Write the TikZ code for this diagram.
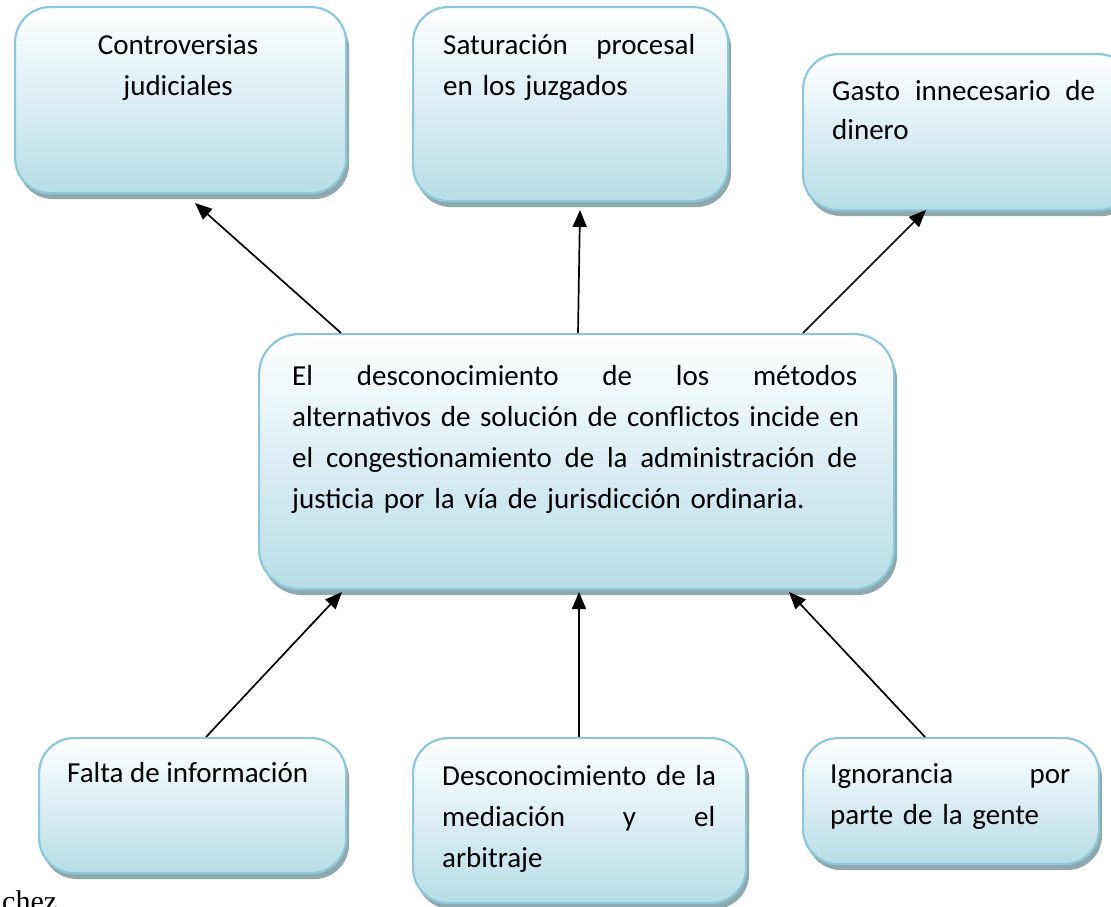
\documentclass[tikz,border=0pt]{standalone}
\usepackage{fontspec}
\setmainfont{Carlito}
\newfontfamily\chezfont{Liberation Serif}
\usetikzlibrary{shadows,calc,arrows.meta}
\definecolor{boxline}{RGB}{140,200,218}
\definecolor{boxfill}{RGB}{183,221,232}
\definecolor{shadowc}{RGB}{143,168,175}
\newcommand{\jline}[2]{\leavevmode\hbox to #1{#2}}
\tikzset{
  card/.style={draw=boxline, line width=2.2pt, rounded corners=35pt,
    top color=white, bottom color=boxfill, anchor=north west, inner sep=0pt,
    drop shadow={shadow xshift=3pt, shadow yshift=-6pt, fill=shadowc, opacity=1}},
  txt/.style={inner sep=0pt, anchor=base west, align=left,
    font=\fontsize{29pt}{41pt}\selectfont},
  link/.style={-{Triangle[length=17pt,width=14pt]}, line width=1.7pt, black},
}
\begin{document}
\begin{tikzpicture}[x=1pt,y=-1pt]
\useasboundingbox (0,0) rectangle (1111,907);
\clip (0,0) rectangle (1111,907);
% boxes
\node[card, minimum width=331pt, minimum height=186pt] (b1) at (14,6) {};
\node[card, minimum width=315pt, minimum height=194pt] (b2) at (412,6) {};
\node[card, minimum width=330pt, minimum height=156pt] (b3) at (802,53) {};
\node[card, minimum width=635pt, minimum height=255pt, rounded corners=40pt] (c) at (258,333) {};
\node[card, minimum width=307pt, minimum height=135pt] (d1) at (38,737) {};
\node[card, minimum width=333pt, minimum height=165pt] (d2) at (412,737) {};
\node[card, minimum width=296pt, minimum height=126pt] (d3) at (802,737) {};
% texts
\node[txt, anchor=base, align=center, text width=250pt] (t1) at (178,55) {Controversias\\judiciales};
\node[txt, text width=262pt] (t2) at (443,55) {\jline{252pt}{Saturación \hfill procesal}\\en los juzgados};
\node[txt, text width=275pt] (t3) at (832,100) {\jline{263pt}{Gasto \hfill innecesario \hfill de}\\[-2pt]dinero};
\node[txt, text width=580pt] (tc) at (292,385) {\jline{565pt}{El \hfill desconocimiento \hfill de \hfill los \hfill métodos}\\
\jline{565pt}{alternativos \hfill de \hfill solución \hfill de \hfill conflictos \hfill incide \hfill en}\\
\jline{565pt}{el \hfill congestionamiento \hfill de \hfill la \hfill administración \hfill de}\\
justicia por la vía de jurisdicción ordinaria.};
\node[txt] (td1) at (67,782) {Falta de información};
\node[txt, text width=285pt] (td2) at (442,785) {\jline{273pt}{Desconocimiento \hfill de \hfill la}\\
\jline{273pt}{mediación \hfill y \hfill el}\\arbitraje};
\node[txt, text width=250pt] (td3) at (830,783) {\jline{240pt}{Ignorancia \hfill por}\\parte de la gente};
\node[inner sep=0pt, anchor=base west, font=\chezfont\fontsize{30pt}{36pt}\selectfont] (ch) at (2,911) {chez};
% connectors
\draw[link] ($(c.north west)+(83,0)$) -- ($(b1.north west)+(181,197)$);
\draw[link] ($(c.north west)+(320,0)$) -- ($(b2.north west)+(168,204)$);
\draw[link] ($(c.north west)+(545,0)$) -- ($(b3.north west)+(124,157)$);
\draw[link] ($(d1.north west)+(168,0)$) -- ($(c.north west)+(84,259)$);
\draw[link] ($(d2.north west)+(167,0)$) -- ($(c.north west)+(321,259)$);
\draw[link] ($(d3.north west)+(123,0)$) -- ($(c.north west)+(531,259)$);
\end{tikzpicture}
\end{document}
